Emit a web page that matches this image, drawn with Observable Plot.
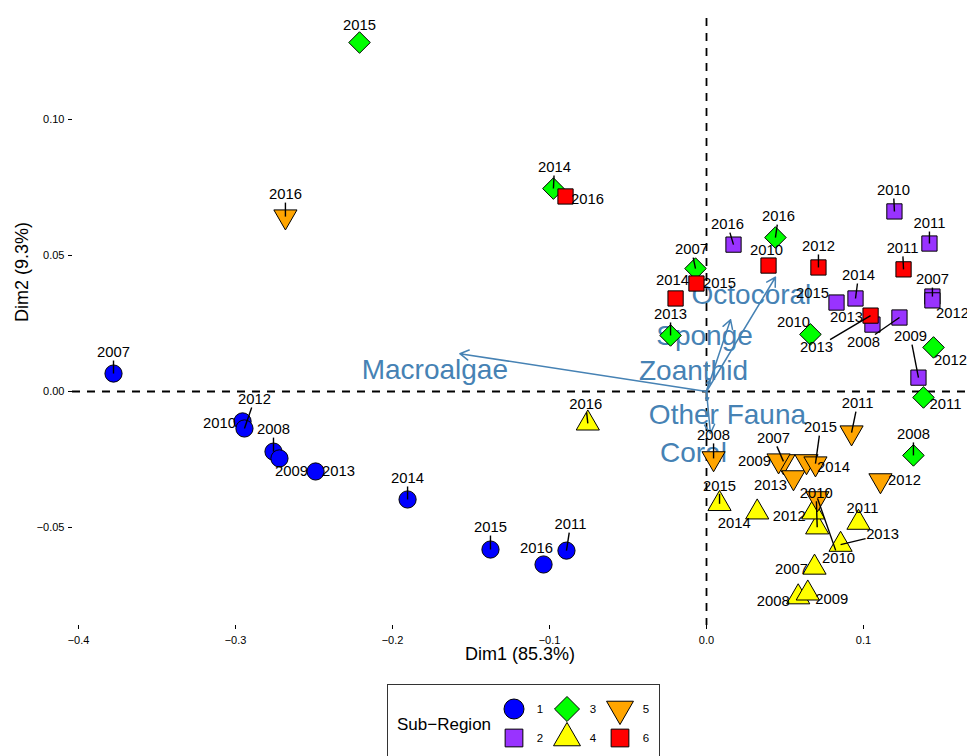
<!DOCTYPE html>
<html>
<head>
<meta charset="utf-8">
<script src="https://cdn.jsdelivr.net/npm/d3@7"></script>
<script src="https://cdn.jsdelivr.net/npm/@observablehq/plot@0.6"></script>
<style>
html,body{margin:0;padding:0;background:#fff;overflow:hidden;}
body{width:967px;height:756px;position:relative;font-family:"Liberation Sans",Arial,Helvetica,sans-serif;}
#chart{position:absolute;left:0;top:0;}
#legend{position:absolute;left:387px;top:684px;width:273px;height:90px;border:1px solid #333;box-sizing:border-box;background:#fff;}
</style>
</head>
<body>
<div id="chart"></div>
<div id="legend"></div>
<script>
// ---------------- DATA ----------------
const years = [2007, 2008, 2009, 2010, 2011, 2012, 2013, 2014, 2015, 2016];
const subRegions = ["1", "2", "3", "4", "5", "6"];
const regionColors = ["#0000FF", "#9933FF", "#00FF00", "#FFFF00", "#FFA500", "#FF0000"];

// Dim1 / Dim2 coordinates per sub-region, in year order (null = no sample)
const sr1Dim1 = [-0.3777, -0.2758, -0.2720, -0.2955, -0.0892, -0.2943, -0.2490, -0.1904, -0.1376, -0.1038];
const sr1Dim2 = [ 0.0066, -0.0221, -0.0246, -0.0110, -0.0585, -0.0136, -0.0294, -0.0397, -0.0581, -0.0636];
const sr2Dim1 = [ 0.1439,  0.1229,  0.1350,  0.1197,  0.1420,  0.1439,  0.1057,  0.0949,  0.0828,  0.0172];
const sr2Dim2 = [ 0.0349,  0.0272,  0.0051,  0.0662,  0.0544,  0.0335,  0.0246,  0.0342,  0.0327,  0.0540];
const sr3Dim1 = [-0.0070,  0.1318,  null,    0.0662,  0.1382,  0.1446, -0.0229, -0.0975, -0.2210,  0.0439];
const sr3Dim2 = [ 0.0452, -0.0235,  null,    0.0210, -0.0022,  0.0162,  0.0206,  0.0746,  0.1283,  0.0566];
const sr4Dim1 = [ 0.0688,  0.0584,  0.0645,  0.0705,  0.0968,  0.0680,  0.0854,  0.0323,  0.0083, -0.0756];
const sr4Dim2 = [-0.0647, -0.0756, -0.0742, -0.0499, -0.0482, -0.0444, -0.0563, -0.0444, -0.0413, -0.0117];
const sr5Dim1 = [ 0.0490,  0.0045,  0.0459,  0.0707,  0.0924,  0.1108,  0.0554,  0.0637,  0.0694, -0.2682];
const sr5Dim2 = [-0.0257, -0.0246, -0.0254, -0.0393, -0.0151, -0.0327, -0.0316, -0.0257, -0.0265,  0.0643];
const sr6Dim1 = [ null,    null,    null,    0.0395,  0.1255,  0.0713,  0.1045, -0.0197, -0.0064, -0.0898];
const sr6Dim2 = [ null,    null,    null,    0.0463,  0.0449,  0.0456,  0.0279,  0.0342,  0.0397,  0.0717];

// Variable loadings (arrows)
const varNames = ["Macroalgae", "Octocoral", "Sponge", "Zoanthid", "Other Fauna", "Coral"];
const varDim1  = [-0.1571, 0.0439, 0.0153, 0.0019, 0.0006, 0.0025];
const varDim2  = [ 0.0139, 0.0420, 0.0264, 0.0040, -0.0033, -0.0154];

// Tick values
const xTicks = [-0.4, -0.3, -0.2, -0.1, 0.0, 0.1];
const yTicks = [-0.05, 0.00, 0.05, 0.10];

// ---------------- LAYOUT (label nudges in px: [dx, dy, leaderSegment]) ----------------
const sr1Nudge = [[0,-21,1],[0,-22,1],[12,13,0],[-23,2,0],[4,-26,1],[10,-29,1],[23,0,0],[0,-21,1],[0,-22,1],[-7,-16,0]];
const sr2Nudge = [[0,-17,1],[-36,25,1],[-8,-41,1],[-1,-21,1],[0,-20,1],[20,13,0],[-26,-7,0],[3,-23,1],[-24,-9,0],[-6,-20,1]];
const sr3Nudge = [[-4,-19,1],[0,-21,1],null,[-17,-12,0],[22,7,0],[17,13,0],[0,-21,1],[1,-21,1],[0,-17,0],[3,-21,1]];
const sr4Nudge = [[-23,2,0],[-25,4,0],[24,6,0],[-1,-34,1],[4,-14,0],[-24,4,0],[42,-10,1],[-23,11,0],[0,-18,1],[-2,-19,1]];
const sr5Nudge = [[-10,-23,1],[0,-23,1],[-24,1,0],[21,60,1],[6,-29,1],[24,0,0],[-23,8,0],[27,6,0],[5,-36,1],[0,-22,1]];
const sr6Nudge = [null,null,null,[-2,-15,0],[-1,-21,1],[0,-21,1],[-54,32,1],[-3,-18,0],[23,0,0],[22,3,0]];
const varNudge = [[-25,16],[-24,18],[-26,16],[-16,-10],[20,15],[-17,20]];

const W = 967, H = 676;
const margins = {marginTop: 18, marginRight: 0, marginBottom: 51, marginLeft: 72};
const xDomain = [-0.40382, 0.16624];
const yDomain = [-0.08603, 0.13713];
const FONT = "Liberation Sans, Arial, Helvetica, sans-serif";

// ---------------- SYMBOLS (R pch 21-25 geometry) ----------------
const symCircle = {draw(c, s) { const r = Math.sqrt(s / Math.PI); c.moveTo(r, 0); c.arc(0, 0, r, 0, 2 * Math.PI); c.closePath(); }};
const symSquare = {draw(c, s) { const r = Math.sqrt(s / Math.PI) * 0.886; c.moveTo(-r, -r); c.lineTo(r, -r); c.lineTo(r, r); c.lineTo(-r, r); c.closePath(); }};
const symDiamond = {draw(c, s) { const r = Math.sqrt(s / Math.PI) * 1.253; c.moveTo(0, -r); c.lineTo(r, 0); c.lineTo(0, r); c.lineTo(-r, 0); c.closePath(); }};
const symTriUp = {draw(c, s) { const R = Math.sqrt(s / Math.PI); const rr = 1.5551 * R, xc = 1.3468 * R, yc = 0.7776 * R; c.moveTo(0, -rr); c.lineTo(xc, yc); c.lineTo(-xc, yc); c.closePath(); }};
const symTriDown = {draw(c, s) { const R = Math.sqrt(s / Math.PI); const rr = 1.5551 * R, xc = 1.3468 * R, yc = 0.7776 * R; c.moveTo(0, rr); c.lineTo(xc, -yc); c.lineTo(-xc, -yc); c.closePath(); }};
const regionSymbols = [symCircle, symSquare, symDiamond, symTriUp, symTriDown, symSquare];

// ---------------- BUILD TABLES ----------------
const dim1Lists = [sr1Dim1, sr2Dim1, sr3Dim1, sr4Dim1, sr5Dim1, sr6Dim1];
const dim2Lists = [sr1Dim2, sr2Dim2, sr3Dim2, sr4Dim2, sr5Dim2, sr6Dim2];
const nudgeLists = [sr1Nudge, sr2Nudge, sr3Nudge, sr4Nudge, sr5Nudge, sr6Nudge];
const points = [];
subRegions.forEach((reg, i) => {
  years.forEach((yr, j) => {
    const x = dim1Lists[i][j], y = dim2Lists[i][j];
    if (x == null || y == null) return;
    const n = nudgeLists[i][j] || [0, -20, 1];
    points.push({region: reg, year: yr, x, y, dx: n[0], dy: n[1], seg: !!n[2]});
  });
});
const vars = varNames.map((name, i) => ({name, x: varDim1[i], y: varDim2[i], dx: varNudge[i][0], dy: varNudge[i][1]}));

const baseOpts = {
  width: W, height: H, ...margins,
  x: {domain: xDomain},
  y: {domain: yDomain}
};

// probe plot to obtain Plot's own scales
const probe = Plot.plot({...baseOpts, marks: [Plot.dot(points, {x: "x", y: "y"})]});
const sx = probe.scale("x"), sy = probe.scale("y");

const HW = 17, HH = 8;
points.forEach(p => {
  const px = sx.apply(p.x), py = sy.apply(p.y);
  const cx = px + p.dx, cy = py + p.dy;
  p.lx = sx.invert(cx); p.ly = sy.invert(cy);
  if (p.seg) {
    const ddx = px - cx, ddy = py - cy;
    const t = Math.min(ddx ? HW / Math.abs(ddx) : Infinity, ddy ? HH / Math.abs(ddy) : Infinity);
    p.ex = sx.invert(cx + ddx * t); p.ey = sy.invert(cy + ddy * t);
  }
});
vars.forEach(v => {
  v.lx = sx.invert(sx.apply(v.x) + v.dx);
  v.ly = sy.invert(sy.apply(v.y) + v.dy);
});

const fmt = (d, k) => (d < 0 ? "\u2212" : "") + Math.abs(d).toFixed(k);

const chart = Plot.plot({
  ...baseOpts,
  style: {background: "#fff", fontFamily: FONT, fontSize: "11.5px", color: "#000", overflow: "visible"},
  symbol: {domain: subRegions, range: regionSymbols, legend: false},
  color: {domain: subRegions, range: regionColors, legend: false},
  marks: [
    Plot.ruleY([0], {stroke: "#000", strokeWidth: 1.8, strokeDasharray: "8,7"}),
    Plot.ruleX([0], {stroke: "#000", strokeWidth: 1.8, strokeDasharray: "8,7"}),
    Plot.arrow(vars, {x1: () => 0, y1: () => 0, x2: "x", y2: "y", stroke: "#4682B4", strokeWidth: 1.5, headLength: 10, bend: 0}),
    Plot.text(vars, {x: "lx", y: "ly", text: "name", fill: "#4682B4", fontSize: 28, fontFamily: FONT}),
    Plot.dot(points, {x: "x", y: "y", symbol: "region", fill: "region", stroke: "#000", strokeWidth: 1, r: 8.6}),
    Plot.link(points.filter(p => p.seg), {x1: "x", y1: "y", x2: "ex", y2: "ey", stroke: "#000", strokeWidth: 1.4}),
    Plot.text(points, {x: "lx", y: "ly", text: d => String(d.year), fill: "#000", fontSize: 14.8, fontFamily: FONT}),
    Plot.axisX(xTicks, {tickSize: 4, tickPadding: 7, tickFormat: d => fmt(d, 1), label: null, fontSize: 11, stroke: "#000", fill: "#000"}),
    Plot.axisY(yTicks, {tickSize: 4, tickPadding: 4, tickFormat: d => fmt(d, 2), label: null, fontSize: 11, stroke: "#000", fill: "#000"}),
    Plot.text(["Dim1 (85.3%)"], {frameAnchor: "bottom", dy: 34, text: d => d, fontSize: 18, fill: "#000", fontFamily: FONT}),
    Plot.text(["Dim2 (9.3%)"], {frameAnchor: "left", dx: -50, rotate: -90, text: d => d, fontSize: 18, fill: "#000", fontFamily: FONT})
  ]
});
document.getElementById("chart").appendChild(chart);

// ---------------- LEGEND ----------------
const leg = d3.select("#legend").append("svg").attr("width", 271).attr("height", 88)
  .style("font-family", FONT);
leg.append("text").attr("x", 9).attr("y", 39).attr("dominant-baseline", "central")
  .attr("font-size", 17).attr("fill", "#000").text("Sub\u2212Region");
const legR = 10, legSize = Math.PI * legR * legR;
const legCols = [126, 179, 232], legRows = [24, 53];
subRegions.forEach((s, i) => {
  const cx = legCols[Math.floor(i / 2)], cy = legRows[i % 2];
  leg.append("path").attr("transform", `translate(${cx},${cy})`)
    .attr("d", d3.symbol(regionSymbols[i], legSize)())
    .attr("fill", regionColors[i]).attr("stroke", "#000").attr("stroke-width", 1);
  leg.append("text").attr("x", cx + 26).attr("y", cy).attr("dominant-baseline", "central")
    .attr("text-anchor", "middle").attr("font-size", 11.5).attr("fill", "#000").text(s);
});
</script>
</body>
</html>
